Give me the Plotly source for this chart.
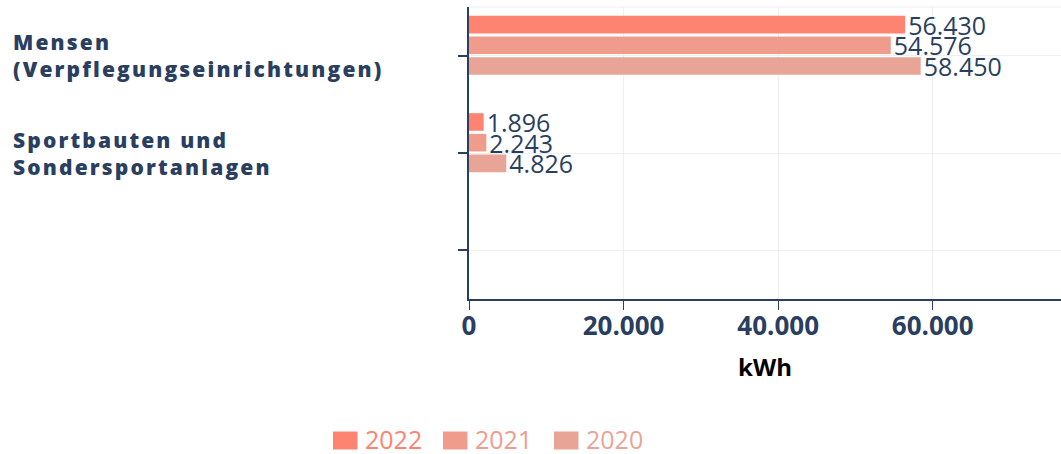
import plotly.graph_objects as go

# ---------------- data ----------------
categories = ["Mensen<br>(Verpflegungseinrichtungen)", "Sportbauten und<br>Sondersportanlagen", " "]
series_names = ["2022", "2021", "2020"]
values_2022 = [56430, 1896, None]
values_2021 = [54576, 2243, None]
values_2020 = [58450, 4826, None]
values_empty = [None, None, None]  # fourth (empty) slot present in the grouped layout
x_tick_values = [0, 20000, 40000, 60000]
x_axis_title = "kWh"

# ---------------- style ----------------
colors = ["#FF8370", "#F09C8D", "#E8A497"]
navy = "#2a3f5f"
grid = "#EEEEEE"
W, H = 1061, 454
ML, MR, MT, MB = 469, 0, 7, 155
PW, PH = W - ML - MR, H - MT - MB


def px_x(p):
    return (p - ML) / PW


def px_y(p):
    return (H - MB - p) / PH


def spaced(text, ls):
    return "<br>".join(
        f"<span style='letter-spacing:{ls}px'>{line}</span>" for line in text.split("<br>")
    )


fig = go.Figure()
for name, vals, col in zip(series_names, [values_2022, values_2021, values_2020], colors):
    fig.add_trace(go.Bar(
        name=name, y=categories, x=vals, orientation="h",
        marker=dict(color=col, line=dict(width=0)),
        texttemplate="%{x:,d}", textposition="outside",
        textfont=dict(family="Open Sans", size=25, color=navy),
        constraintext="none", cliponaxis=False, showlegend=False,
    ))
fig.add_trace(go.Bar(name="", y=categories, x=values_empty, orientation="h",
                     showlegend=False, hoverinfo="skip"))

annotations = []
# category labels (left aligned)
for cat in categories:
    annotations.append(dict(
        text=spaced(cat, 2.15), xref="paper", x=0, xshift=10.5 - ML, xanchor="left", align="left",
        yref="y", y=cat, yanchor="middle", showarrow=False,
        font=dict(family="Open Sans", size=21, color=navy, weight=800),
    ))

# custom legend
legend_rect_x = [333, 443, 554]
shapes = [dict(type="line", xref="paper", yref="paper", x0=0, x1=1, y0=1, y1=1,
               line=dict(color=grid, width=1), layer="below")]
for name, col, rx in zip(series_names, colors, legend_rect_x):
    shapes.append(dict(type="rect", xref="paper", yref="paper",
                       x0=px_x(rx), x1=px_x(rx + 24.5), y0=px_y(431.5), y1=px_y(449.5),
                       fillcolor=col, line=dict(width=0)))
    annotations.append(dict(
        text=name, xref="paper", x=px_x(rx + 30), xanchor="left",
        yref="paper", y=px_y(439), yanchor="middle", height=28, valign="middle",
        showarrow=False,
        font=dict(family="Open Sans", size=25, color=col),
    ))

fig.update_layout(
    width=W, height=H,
    margin=dict(l=ML, r=MR, t=MT, b=MB, pad=0),
    barmode="group", bargap=0.15, bargroupgap=0.15,
    separators=",.",
    plot_bgcolor="white", paper_bgcolor="white",
    font=dict(family="Open Sans", color=navy),
    showlegend=False,
    shapes=shapes, annotations=annotations,
    xaxis=dict(
        range=[0, 76600], tickvals=x_tick_values, tickformat=",d",
        showgrid=True, gridcolor=grid, gridwidth=1, zeroline=False,
        showline=True, linecolor=navy, linewidth=2,
        ticks="outside", ticklen=9, tickwidth=1, tickcolor=navy,
        ticklabelstandoff=-6,
        tickfont=dict(family="Open Sans", size=26, color=navy, weight="bold"),
        title=dict(text=x_axis_title, standoff=17,
                   font=dict(family="Open Sans", size=24, color="black", weight="bold")),
    ),
    yaxis=dict(
        type="category", categoryorder="array", categoryarray=categories,
        autorange="reversed",
        showgrid=True, gridcolor=grid, gridwidth=1, zeroline=False,
        showline=True, linecolor=navy, linewidth=2,
        ticks="outside", ticklen=9, tickwidth=1.5, tickcolor=navy,
        showticklabels=False,
    ),
)

fig.write_html("out.html", config={"displayModeBar": False},
               post_script="document.body.style.margin='0';")
